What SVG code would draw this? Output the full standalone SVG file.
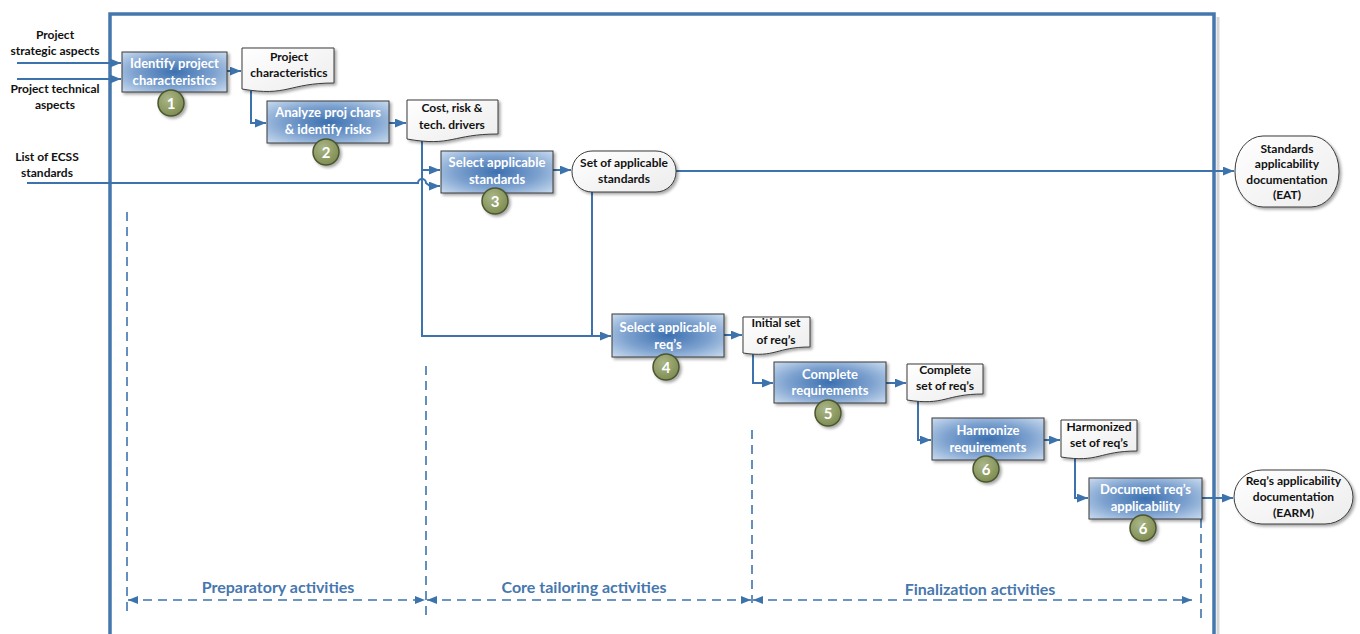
<svg xmlns="http://www.w3.org/2000/svg" width="1360" height="634" viewBox="0 0 1360 634">
  <defs>
    <radialGradient id="boxFill" cx="50%" cy="50%" r="70%">
      <stop offset="0" stop-color="#3c70b0"/>
      <stop offset="0.55" stop-color="#7fa3d0"/>
      <stop offset="1" stop-color="#c9dbef"/>
    </radialGradient>
    <radialGradient id="badgeFill" cx="40%" cy="35%" r="70%">
      <stop offset="0" stop-color="#aab687"/>
      <stop offset="1" stop-color="#7c8b4f"/>
    </radialGradient>
    <linearGradient id="paperFill" x1="0" y1="0" x2="1" y2="1">
      <stop offset="0" stop-color="#ffffff"/>
      <stop offset="1" stop-color="#ececec"/>
    </linearGradient>
    <filter id="shadow" x="-20%" y="-20%" width="140%" height="150%">
      <feGaussianBlur in="SourceAlpha" stdDeviation="1.5"/>
      <feOffset dx="2" dy="2" result="b"/>
      <feComponentTransfer><feFuncA type="linear" slope="0.35"/></feComponentTransfer>
      <feMerge><feMergeNode/><feMergeNode in="SourceGraphic"/></feMerge>
    </filter>
    <marker id="arrow" viewBox="0 0 10 8" refX="10" refY="4" markerWidth="11" markerHeight="9" markerUnits="userSpaceOnUse" orient="auto">
      <path d="M0,0 L10,4 L0,8 Z" fill="#3d73ad"/>
    </marker>
    <marker id="dashArrow" viewBox="0 0 10 8" refX="10" refY="4" markerWidth="10" markerHeight="9" markerUnits="userSpaceOnUse" orient="auto-start-reverse">
      <path d="M0,0 L10,4 L0,8 Z" fill="#3d73ad"/>
    </marker>
    <style>
      .frame { fill: none; stroke: #4577ad; stroke-width: 3.5; }
      .frameShade { fill: none; stroke: #d6d6d6; stroke-width: 3; }
      .conn { fill: none; stroke: #3d73ad; stroke-width: 2; }
      .phase { fill: none; stroke: #3d73ad; stroke-width: 1.6; stroke-dasharray: 9 6; }
      .box { fill: url(#boxFill); stroke: #3b3b3b; stroke-width: 1; filter: url(#shadow); }
      .paper { fill: url(#paperFill); stroke: #3b3b3b; stroke-width: 1; filter: url(#shadow); }
      .badge { fill: url(#badgeFill); stroke: #4b5530; stroke-width: 1.5; filter: url(#shadow); }
      .btxt { font-family: Lato, "Liberation Sans", sans-serif; font-weight: bold; font-size: 13px; fill: #ffffff; text-anchor: middle; }
      .ltxt { font-family: Lato, "Liberation Sans", sans-serif; font-weight: bold; font-size: 12px; fill: #111111; text-anchor: middle; }
      .ntxt { font-family: Lato, "Liberation Sans", sans-serif; font-weight: bold; font-size: 15px; fill: #ffffff; text-anchor: middle; }
      .ptxt { font-family: Lato, "Liberation Sans", sans-serif; font-weight: bold; font-size: 16px; fill: #4677ae; text-anchor: middle; }
    </style>
  </defs>

  <rect width="1360" height="634" fill="#ffffff"/>

  <!-- process boundary -->
  <g id="boundary">
    <path class="frameShade" d="M1218,17 V634"/>
    <path class="frame" d="M110,634 V14 H1214 V634"/>
  </g>

  <!-- phase separators and spans -->
  <g id="phases">
    <path class="phase" d="M127,212 V614"/>
    <path class="phase" d="M426,366 V618"/>
    <path class="phase" d="M752,430 V603"/>
    <path class="phase" d="M1201,519 V618"/>
    <path class="phase" d="M128,600 H425" marker-start="url(#dashArrow)" marker-end="url(#dashArrow)"/>
    <path class="phase" d="M427,600 H751" marker-start="url(#dashArrow)" marker-end="url(#dashArrow)"/>
    <path class="phase" d="M753,600 H1192" marker-start="url(#dashArrow)" marker-end="url(#dashArrow)"/>
    <text class="ptxt" x="278" y="593">Preparatory activities</text>
    <text class="ptxt" x="584" y="593">Core tailoring activities</text>
    <text class="ptxt" x="980" y="595">Finalization activities</text>
  </g>

  <!-- external inputs -->
  <g id="inputs">
    <text class="ltxt" x="55" y="39">Project</text>
    <text class="ltxt" x="55" y="55">strategic aspects</text>
    <text class="ltxt" x="55" y="93">Project technical</text>
    <text class="ltxt" x="55" y="109">aspects</text>
    <text class="ltxt" x="47" y="161">List of ECSS</text>
    <text class="ltxt" x="47" y="177">standards</text>
  </g>

  <!-- connectors -->
  <g id="connectors">
    <path class="conn" d="M17,63 H121" marker-end="url(#arrow)"/>
    <path class="conn" d="M17,79 H121" marker-end="url(#arrow)"/>
    <path class="conn" d="M227,71 H241" marker-end="url(#arrow)"/>
    <path class="conn" d="M251,89 V123 H266" marker-end="url(#arrow)"/>
    <path class="conn" d="M389,123 H406" marker-end="url(#arrow)"/>
    <path class="conn" d="M422,138 V336 H611" marker-end="url(#arrow)"/>
    <path class="conn" d="M422,170 H440" marker-end="url(#arrow)"/>
    <path class="conn" d="M27,183 H418 A4,4 0 0 1 426,183 L430,186 H440" marker-end="url(#arrow)"/>
    <path class="conn" d="M553,170 H571" marker-end="url(#arrow)"/>
    <path class="conn" d="M676,171 H1234" marker-end="url(#arrow)"/>
    <path class="conn" d="M592,192 V336"/>
    <path class="conn" d="M724,335 H742" marker-end="url(#arrow)"/>
    <path class="conn" d="M753,352 V383 H773" marker-end="url(#arrow)"/>
    <path class="conn" d="M886,383 H906" marker-end="url(#arrow)"/>
    <path class="conn" d="M918,400 V440 H931" marker-end="url(#arrow)"/>
    <path class="conn" d="M1044,440 H1060" marker-end="url(#arrow)"/>
    <path class="conn" d="M1075,458 V498 H1088" marker-end="url(#arrow)"/>
    <path class="conn" d="M1202,498 H1233" marker-end="url(#arrow)"/>
  </g>

  <!-- activity 1 -->
  <g id="identify-characteristics">
    <rect class="box" x="122" y="52" width="105" height="40"/>
    <text class="btxt" x="174.5" y="68">Identify project</text>
    <text class="btxt" x="174.5" y="85">characteristics</text>
    <circle class="badge" cx="171" cy="103" r="13"/>
    <text class="ntxt" x="171" y="108.5">1</text>
  </g>

  <g id="doc-project-characteristics">
    <path class="paper" d="M242,48 H334 V83 C288,83 288,97 242,89 Z"/>
    <text class="ltxt" x="289" y="61">Project</text>
    <text class="ltxt" x="289" y="77">characteristics</text>
  </g>

  <!-- activity 2 -->
  <g id="analyze-characteristics">
    <rect class="box" x="267" y="101" width="122" height="42"/>
    <text class="btxt" x="328" y="117">Analyze proj chars</text>
    <text class="btxt" x="328" y="134">&amp; identify risks</text>
    <circle class="badge" cx="326" cy="152" r="13"/>
    <text class="ntxt" x="326" y="157.5">2</text>
  </g>

  <g id="doc-drivers">
    <path class="paper" d="M407,100 H498 V134 C452,134 452,147 407,139 Z"/>
    <text class="ltxt" x="452" y="112">Cost, risk &amp;</text>
    <text class="ltxt" x="452" y="129">tech. drivers</text>
  </g>

  <!-- activity 3 -->
  <g id="select-standards">
    <rect class="box" x="441" y="151" width="112" height="42"/>
    <text class="btxt" x="497" y="167">Select applicable</text>
    <text class="btxt" x="497" y="184">standards</text>
    <circle class="badge" cx="495" cy="201" r="13"/>
    <text class="ntxt" x="495" y="206.5">3</text>
  </g>

  <g id="set-of-standards">
    <rect class="paper" x="572" y="151" width="104" height="41" rx="20" ry="20"/>
    <text class="ltxt" x="624" y="167">Set of applicable</text>
    <text class="ltxt" x="624" y="183">standards</text>
  </g>

  <g id="standards-documentation">
    <rect class="paper" x="1235" y="136" width="104" height="71" rx="28" ry="35"/>
    <text class="ltxt" x="1287" y="153">Standards</text>
    <text class="ltxt" x="1287" y="168">applicability</text>
    <text class="ltxt" x="1287" y="184">documentation</text>
    <text class="ltxt" x="1287" y="199">(EAT)</text>
  </g>

  <!-- activity 4 -->
  <g id="select-requirements">
    <rect class="box" x="612" y="314" width="112" height="43"/>
    <text class="btxt" x="668" y="332">Select applicable</text>
    <text class="btxt" x="668" y="349">req’s</text>
    <circle class="badge" cx="666" cy="367" r="13"/>
    <text class="ntxt" x="666" y="372.5">4</text>
  </g>

  <g id="doc-initial-set">
    <path class="paper" d="M743,317 H810 V347 C776,347 776,358 743,353 Z"/>
    <text class="ltxt" x="776" y="327">Initial set</text>
    <text class="ltxt" x="776" y="344">of req’s</text>
  </g>

  <!-- activity 5 -->
  <g id="complete-requirements">
    <rect class="box" x="774" y="362" width="112" height="41"/>
    <text class="btxt" x="830" y="379">Complete</text>
    <text class="btxt" x="830" y="395">requirements</text>
    <circle class="badge" cx="828" cy="413" r="13"/>
    <text class="ntxt" x="828" y="418.5">5</text>
  </g>

  <g id="doc-complete-set">
    <path class="paper" d="M907,364 H983 V394 C945,394 945,406 907,400 Z"/>
    <text class="ltxt" x="945" y="374">Complete</text>
    <text class="ltxt" x="945" y="390">set of req’s</text>
  </g>

  <!-- activity 6 -->
  <g id="harmonize-requirements">
    <rect class="box" x="932" y="418" width="112" height="42"/>
    <text class="btxt" x="988" y="435">Harmonize</text>
    <text class="btxt" x="988" y="452">requirements</text>
    <circle class="badge" cx="986" cy="469" r="13"/>
    <text class="ntxt" x="986" y="474.5">6</text>
  </g>

  <g id="doc-harmonized-set">
    <path class="paper" d="M1061,420 H1137 V451 C1099,451 1099,463 1061,457 Z"/>
    <text class="ltxt" x="1099" y="431">Harmonized</text>
    <text class="ltxt" x="1099" y="447">set of req’s</text>
  </g>

  <!-- activity 7 -->
  <g id="document-applicability">
    <rect class="box" x="1089" y="478" width="113" height="41"/>
    <text class="btxt" x="1145.5" y="494">Document req’s</text>
    <text class="btxt" x="1145.5" y="511">applicability</text>
    <circle class="badge" cx="1143" cy="528" r="13"/>
    <text class="ntxt" x="1143" y="533.5">6</text>
  </g>

  <g id="requirements-documentation">
    <rect class="paper" x="1234" y="470" width="119" height="54" rx="28" ry="27"/>
    <text class="ltxt" x="1293.5" y="485">Req’s applicability</text>
    <text class="ltxt" x="1293.5" y="501">documentation</text>
    <text class="ltxt" x="1293.5" y="517">(EARM)</text>
  </g>
</svg>
